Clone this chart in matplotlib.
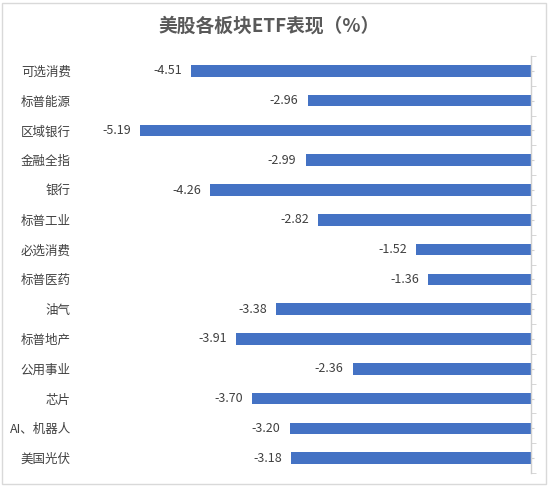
import matplotlib
matplotlib.use("Agg")
import matplotlib.pyplot as plt
from matplotlib.patches import Rectangle

plt.rcParams['font.family'] = ['Noto Sans CJK SC', 'DejaVu Sans']

categories = ["可选消费", "标普能源", "区域银行", "金融全指", "银行", "标普工业", "必选消费",
              "标普医药", "油气", "标普地产", "公用事业", "芯片", "AI、机器人", "美国光伏"]
values = [-4.51, -2.96, -5.19, -2.99, -4.26, -2.82, -1.52, -1.36, -3.38, -3.91, -2.36, -3.70, -3.20, -3.18]
title = "美股各板块ETF表现（%）"

W, H = 550, 492
fig = plt.figure(figsize=(W / 100, H / 100), dpi=100)
fig.patch.set_facecolor("white")

# outer border
fig.patches.append(Rectangle((2 / W, 1 - 484 / H), 544 / W, 481 / H, transform=fig.transFigure,
                             fill=False, edgecolor="#D9D9D9", linewidth=1.0))

left_px, right_px, top_px, bot_px = 100, 530.5, 56, 473
ax = fig.add_axes([left_px / W, 1 - bot_px / H, (right_px - left_px) / W, (bot_px - top_px) / H])

y = list(range(len(categories)))
ax.barh(y, values, height=0.39, color="#4472C4")
ax.set_xlim(-(right_px - left_px) / 75.2, 0)
ax.set_ylim(len(categories) - 0.5, -0.5)

for yi, v in zip(y, values):
    ax.annotate(f"{v:.2f}", (v, yi), xytext=(-6.8, 0), textcoords="offset points",
                ha="right", va="center", fontsize=9, color="#404040")

for s in ["left", "top", "bottom"]:
    ax.spines[s].set_visible(False)
ax.spines["right"].set_color("#D0D0D0")
ax.spines["right"].set_linewidth(1.0)

ax.set_xticks([])
ax.set_yticks(y)
ax.set_yticklabels(categories, fontsize=9, color="#404040")
ax.set_yticks([i - 0.5 for i in range(len(categories) + 1)], minor=True)
ax.tick_params(axis="y", which="major", left=False, right=True, labelleft=True,
               length=2.3, color="#D0D0D0", pad=(left_px - 74) / 1.389)
ax.tick_params(axis="y", which="minor", left=False, right=True, length=3.6, color="#D0D0D0")

fig.text(269 / W, 1 - 26 / H, title, ha="center", va="center", fontsize=13.5,
         fontweight="bold", color="#595959")

fig.savefig("out.png", dpi=100, facecolor="white")
